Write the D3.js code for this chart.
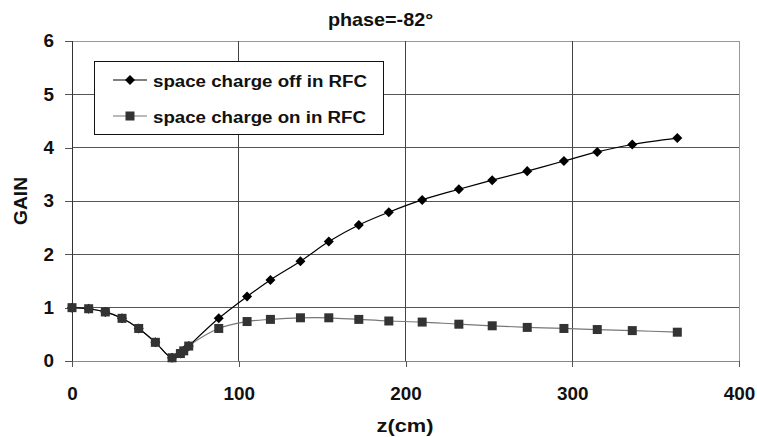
<!DOCTYPE html>
<html><head><meta charset="utf-8">
<script src="https://cdn.jsdelivr.net/npm/d3@7"></script>
<style>body{margin:0;background:#fff}svg{display:block}text{font-family:"Liberation Sans",Arial,sans-serif;font-weight:bold;fill:#111}</style>
</head><body><svg id="c" width="757" height="437"></svg>
<script>
const zValues = [0,10,20,30,40,50,60,65,67,70,88,105,119,137,154,172,190,210,232,252,273,295,315,336,363];
const gainOff = [1.0,0.98,0.92,0.80,0.61,0.35,0.06,0.14,0.19,0.28,0.80,1.21,1.52,1.87,2.24,2.55,2.79,3.02,3.22,3.39,3.56,3.75,3.92,4.06,4.18];
const gainOn  = [1.0,0.98,0.92,0.80,0.61,0.35,0.06,0.14,0.19,0.28,0.61,0.74,0.78,0.81,0.81,0.78,0.75,0.73,0.69,0.66,0.63,0.61,0.59,0.57,0.54];
const xTicks = [0,100,200,300,400];
const yTicks = [0,1,2,3,4,5,6];
const seriesNames = ["space charge off in RFC","space charge on in RFC"];
const titleText = "phase=-82°";
const xTitle = "z(cm)", yTitle = "GAIN";

const W=757,H=437,m={l:72,r:18,t:41,b:76};
const svg=d3.select("#c");
const x=d3.scaleLinear().domain([0,400]).range([m.l,W-m.r]);
const y=d3.scaleLinear().domain([0,6]).range([H-m.b,m.t]);

// helper: stretched text anchored at (px,py)
function stext(g,px,py,str,size,sx,anchor,rot){
  const t=g.append("text").attr("transform",`translate(${px},${py})${rot?` rotate(${rot})`:""} scale(${sx},1)`)
    .attr("font-size",size).attr("text-anchor",anchor||"start").text(str);
  return t;
}

// gridlines
svg.append("g").selectAll("line").data(yTicks.slice(1)).join("line")
 .attr("x1",m.l).attr("x2",W-m.r).attr("y1",d=>y(d)).attr("y2",d=>y(d))
 .attr("stroke",d=>d===6?"#999":"#555").attr("stroke-width",1).attr("shape-rendering","crispEdges");
svg.append("g").selectAll("line").data(xTicks.slice(1)).join("line")
 .attr("y1",m.t).attr("y2",H-m.b).attr("x1",d=>x(d)).attr("x2",d=>x(d))
 .attr("stroke",d=>d===400?"#999":"#444").attr("stroke-width",1).attr("shape-rendering","crispEdges");

// axes
const ya=svg.append("g").attr("transform",`translate(${m.l},0)`)
 .call(d3.axisLeft(y).tickValues(yTicks).tickFormat(d3.format("d")).tickSize(7).tickPadding(11));
const xa=svg.append("g").attr("transform",`translate(0,${H-m.b})`)
 .call(d3.axisBottom(x).tickValues(xTicks).tickFormat(d3.format("d")).tickSize(6).tickPadding(20));
[ya,xa].forEach(a=>{a.select(".domain").attr("stroke","#333").attr("shape-rendering","crispEdges");
 a.selectAll(".tick line").attr("stroke","#555").attr("shape-rendering","crispEdges");
 a.selectAll("text").attr("font-size",18).attr("font-family",'"Liberation Sans",Arial,sans-serif').attr("font-weight","bold").attr("fill","#111")
  .each(function(){const t=d3.select(this);const xx=+t.attr("x")||0;t.attr("x",0).attr("transform",`translate(${xx},0) scale(1.05,1)`);});});
xa.select(".domain").attr("stroke","#888");

// lines
const pts=(arr)=>zValues.map((z,i)=>[z,arr[i]]);
const line=d3.line().x(d=>x(d[0])).y(d=>y(d[1])).curve(d3.curveCatmullRom.alpha(0.5));
svg.append("path").datum(pts(gainOn)).attr("d",line).attr("fill","none").attr("stroke","#777").attr("stroke-width",1.2);
svg.append("path").datum(pts(gainOff)).attr("d",line).attr("fill","none").attr("stroke","#000").attr("stroke-width",1.2);
const diamond=d3.symbol().type(d3.symbolDiamond2).size(64);
svg.append("g").selectAll("path").data(pts(gainOff)).join("path")
 .attr("transform",d=>`translate(${x(d[0])},${y(d[1])})`).attr("d",diamond).attr("fill","#000");
svg.append("g").selectAll("rect").data(pts(gainOn)).join("rect")
 .attr("x",d=>x(d[0])-4.5).attr("y",d=>y(d[1])-4.5).attr("width",9).attr("height",9).attr("fill","#333");

// legend
const lg=svg.append("g");
lg.append("rect").attr("x",94.5).attr("y",61.5).attr("width",289).attr("height",73).attr("fill","#fff").attr("stroke","#111");
[0,1].forEach(i=>{
 const yy=80+i*36;
 lg.append("line").attr("x1",113).attr("x2",147).attr("y1",yy).attr("y2",yy).attr("stroke",i?"#777":"#000").attr("stroke-width",1.2);
 if(i===0) lg.append("path").attr("transform",`translate(130,${yy})`).attr("d",diamond).attr("fill","#000");
 else lg.append("rect").attr("x",125.5).attr("y",yy-4.5).attr("width",9).attr("height",9).attr("fill","#333");
 stext(lg,153,yy+7,seriesNames[i],17,1.1,"start");
});

stext(svg,380.5,26,titleText,18,1.1,"middle");
stext(svg,405,432,xTitle,19,1.15,"middle");
stext(svg,27,201,yTitle,18,1.07,"middle",-90);
</script></body></html>
